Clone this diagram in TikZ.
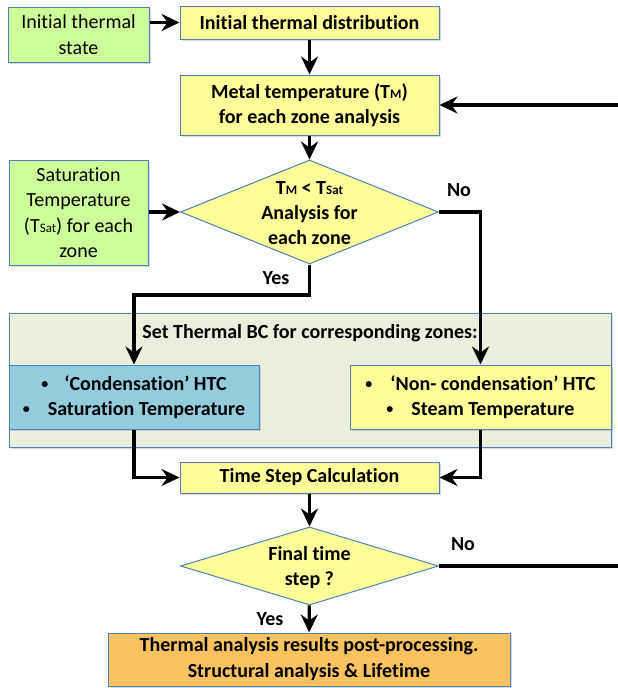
\documentclass[tikz,border=0pt]{standalone}
\usepackage{fontspec}
\setmainfont{Carlito}[Ligatures=NoCommon]
\usetikzlibrary{arrows.meta,shapes.geometric,shadows}

\definecolor{edgeblue}{HTML}{4F81BD}
\definecolor{initgreen}{HTML}{CCFF99}
\definecolor{stepyellow}{HTML}{FFFF99}
\definecolor{condblue}{HTML}{93CDDD}
\definecolor{bcgrey}{HTML}{EBEEDD}
\definecolor{resorange}{HTML}{FAC35F}

\newcommand{\lowtxt}[1]{{\fontsize{13}{13}\selectfont #1}}
\newcommand{\bul}{\raisebox{1.5pt}{\fontsize{14}{14}\selectfont\textbullet}}

\tikzset{
  basebox/.style={rectangle, draw=edgeblue, line width=1pt, align=center, inner sep=0pt,
    drop shadow={shadow xshift=1.5pt, shadow yshift=-2pt, opacity=0.3}},
  initbox/.style={basebox, fill=initgreen, font=\fontsize{20}{25.5}\selectfont},
  stepbox/.style={basebox, fill=stepyellow, font=\fontsize{20}{25}\selectfont\bfseries},
  condbox/.style={basebox, fill=condblue, font=\fontsize{20}{25}\selectfont\bfseries},
  resbox/.style={basebox, fill=resorange, font=\fontsize{20}{26}\selectfont\bfseries},
  bcpanel/.style={basebox, fill=bcgrey},
  decision/.style={diamond, draw=edgeblue, line width=1pt, fill=stepyellow, inner sep=0pt},
  lbl/.style={font=\fontsize{20}{25}\selectfont\bfseries, inner sep=0pt, align=center},
  flow/.style={line width=3.2pt, -{Stealth[length=18pt, width=17pt, inset=6pt]}}
}

\begin{document}
\begin{tikzpicture}[x=1pt, y=-1pt]
  \useasboundingbox (0,0) rectangle (618,688);

  % panel for the boundary conditions
  \node[bcpanel, minimum width=602pt, minimum height=134pt] (bc) at (310,380) {};
  \node[lbl] (bctitle) at (310,333) {Set Thermal BC for corresponding zones:};

  \node[initbox, minimum width=141pt, minimum height=55pt] (state) at (78.5,34.5) {Initial thermal\\state};
  \node[stepbox, minimum width=259pt, minimum height=33pt] (dist) at (309.5,22.5) {Initial thermal distribution};
  \node[stepbox, minimum width=259pt, minimum height=60pt] (metal) at (309.5,105) {Metal temperature (T\lowtxt{M})\\for each zone analysis};
  \node[initbox, minimum width=139pt, minimum height=105pt] (sat) at (78.5,212.5) {Saturation\\Temperature\\(T\lowtxt{Sat}) for each\\zone};

  \node[decision, minimum width=258pt, minimum height=104pt] (zonechk) at (309.5,212) {};
  \node[lbl] (zonetxt) at (309.5,213) {T\lowtxt{M} < T\lowtxt{Sat}\\Analysis for\\each zone};

  \node[condbox, minimum width=250pt, minimum height=64pt] (cond) at (134,397)
    {\bul\hspace{16pt}‘Condensation’ HTC\\\bul\hspace{18pt}Saturation Temperature};
  \node[stepbox, minimum width=261pt, minimum height=64pt] (ncond) at (480.5,397)
    {\bul\hspace{18pt}‘Non- condensation’ HTC\\\bul\hspace{18pt}Steam Temperature};

  \node[stepbox, minimum width=259pt, minimum height=31pt] (tstep) at (309.5,477.5) {Time Step Calculation};

  \node[decision, minimum width=258pt, minimum height=78pt] (finchk) at (309.5,566) {};
  \node[lbl] (fintxt) at (309.5,568) {Final time\\step ?};

  \node[resbox, minimum width=402pt, minimum height=53pt] (result) at (309,659.5)
    {Thermal analysis results post-processing.\\Structural analysis \& Lifetime};

  \node[lbl] (nozone) at (459,190) {No};
  \node[lbl] (yeszone) at (276,278) {Yes};
  \node[lbl] (nofin) at (463,544) {No};
  \node[lbl] (yesfin) at (270,619) {Yes};

  % bends and the return loop (runs off the right edge)
  \coordinate (yesturn) at (309.5,295);
  \coordinate (loopdn) at (630,566);
  \coordinate (loopup) at (630,105);

  \draw[flow] (state.east |- dist) -- (dist.west);
  \draw[flow] (dist) -- (metal);
  \draw[flow] (metal) -- (zonechk);
  \draw[flow] (sat.east |- zonechk) -- (zonechk.west);
  \draw[flow] (zonechk.south) -- (yesturn) -| (cond.north);
  \draw[flow] (zonechk.east) -| (ncond.north);
  \draw[flow] (cond.south) |- (tstep.west);
  \draw[flow] (ncond.south) |- (tstep.east);
  \draw[flow] (tstep) -- (finchk);
  \draw[flow] (finchk) -- (result);
  \draw[flow] (finchk.east) -- (loopdn) -- (loopup) -- (metal.east);
\end{tikzpicture}
\end{document}
